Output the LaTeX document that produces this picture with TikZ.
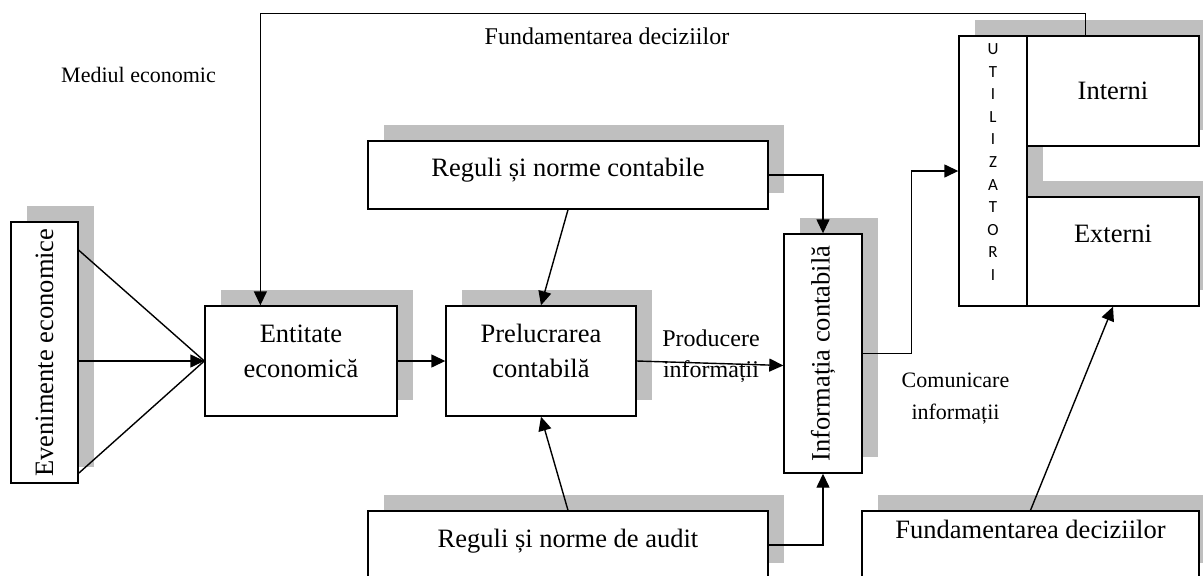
\documentclass[tikz,border=0pt]{standalone}
\usepackage{fontspec}
\setmainfont{Liberation Serif}
\newfontfamily\utilfont{Carlito}
\usetikzlibrary{positioning,shadows,arrows.meta,calc}

\begin{document}
\begin{tikzpicture}[
  x=1pt, y=-1pt,
  box/.style={draw, fill=white, line width=1.4pt, inner sep=0pt, align=center,
    font=\fontsize{26.5}{35}\selectfont,
    drop shadow={shadow xshift=16pt, shadow yshift=16pt, fill=black!25, opacity=1}},
  lbl/.style={align=center, font=\fontsize{22}{32}\selectfont},
  arr/.style={-{Triangle[length=14pt,width=13pt]}, line width=1.4pt},
  ln/.style={line width=1.4pt},
]
\clip (0,0) rectangle (1203,576);

% Boxes
\node[box, minimum width=67, minimum height=261] (even) at (44.5,352.5) {\rotatebox{90}{Evenimente economice}};
\node[box, minimum width=192, minimum height=110, text depth=20pt] (ent) at (301,361) {Entitate\\economică};
\node[box, minimum width=190, minimum height=110, text depth=20pt] (prel) at (541,361) {Prelucrarea\\contabilă};
\node[box, minimum width=400, minimum height=68, text depth=16pt] (rc) at (568,175) {Reguli și norme contabile};
\node[box, minimum width=400, minimum height=68, text depth=14pt] (audit) at (568,545) {Reguli și norme de audit};
\node[box, minimum width=78, minimum height=239] (info) at (823,353.5) {\rotatebox{90}{Informația contabilă}};

% Utilizatori
\node[box, minimum width=68, minimum height=270, text depth=18pt, font=\utilfont\fontsize{17}{22.6}\selectfont] (util) at (993,171) {U\\T\\I\\L\\I\\Z\\A\\T\\O\\R\\I};
\node[box, minimum width=172, minimum height=110] (int) at (1113,91) {Interni};
\node[box, minimum width=172, minimum height=109, text depth=35pt] (ext) at (1113,251.5) {Externi};
\node[box, minimum width=337, minimum height=68, text depth=32pt] (fund) at (1030.5,545) {Fundamentarea deciziilor};

% Labels
\node[lbl] (mediu) at (138.5,75) {Mediul economic};
\node[lbl, font=\fontsize{24}{31}\selectfont] (fundlbl) at (607,36) {Fundamentarea deciziilor};
\node[lbl, font=\fontsize{24}{31}\selectfont] (prodlbl) at (711,356) {Producere\\informații};
\node[lbl] (comlbl) at (955.5,398.5) {Comunicare\\informații};

% Connectors
\draw[ln] ($(even.north east)!0.11!(even.south east)$) -- (ent.west);
\draw[arr] (even.east |- ent.west) -- (ent.west);
\draw[ln] ($(even.north east)!0.96!(even.south east)$) -- (ent.west);
\draw[arr] (ent) -- (prel);
\draw[arr] (rc.south) -- (prel.north);
\draw[arr] (audit.north) -- (prel.south);
\draw[arr] (prel.east) -- ($(info.west)+(0,12)$);
\draw[arr] (rc.east) -| (info.north);
\draw[arr] (audit.east) -| (info.south);
\draw[arr] (info.east) -- ++(49,0) |- (util.west);
\draw[arr] (fund.north) -- (ext.south);
\draw[arr] ($(int.north west)!0.34!(int.north east)$) -- ++(0,-22) -| ($(ent.north west)!0.29!(ent.north east)$);
\end{tikzpicture}
\end{document}
